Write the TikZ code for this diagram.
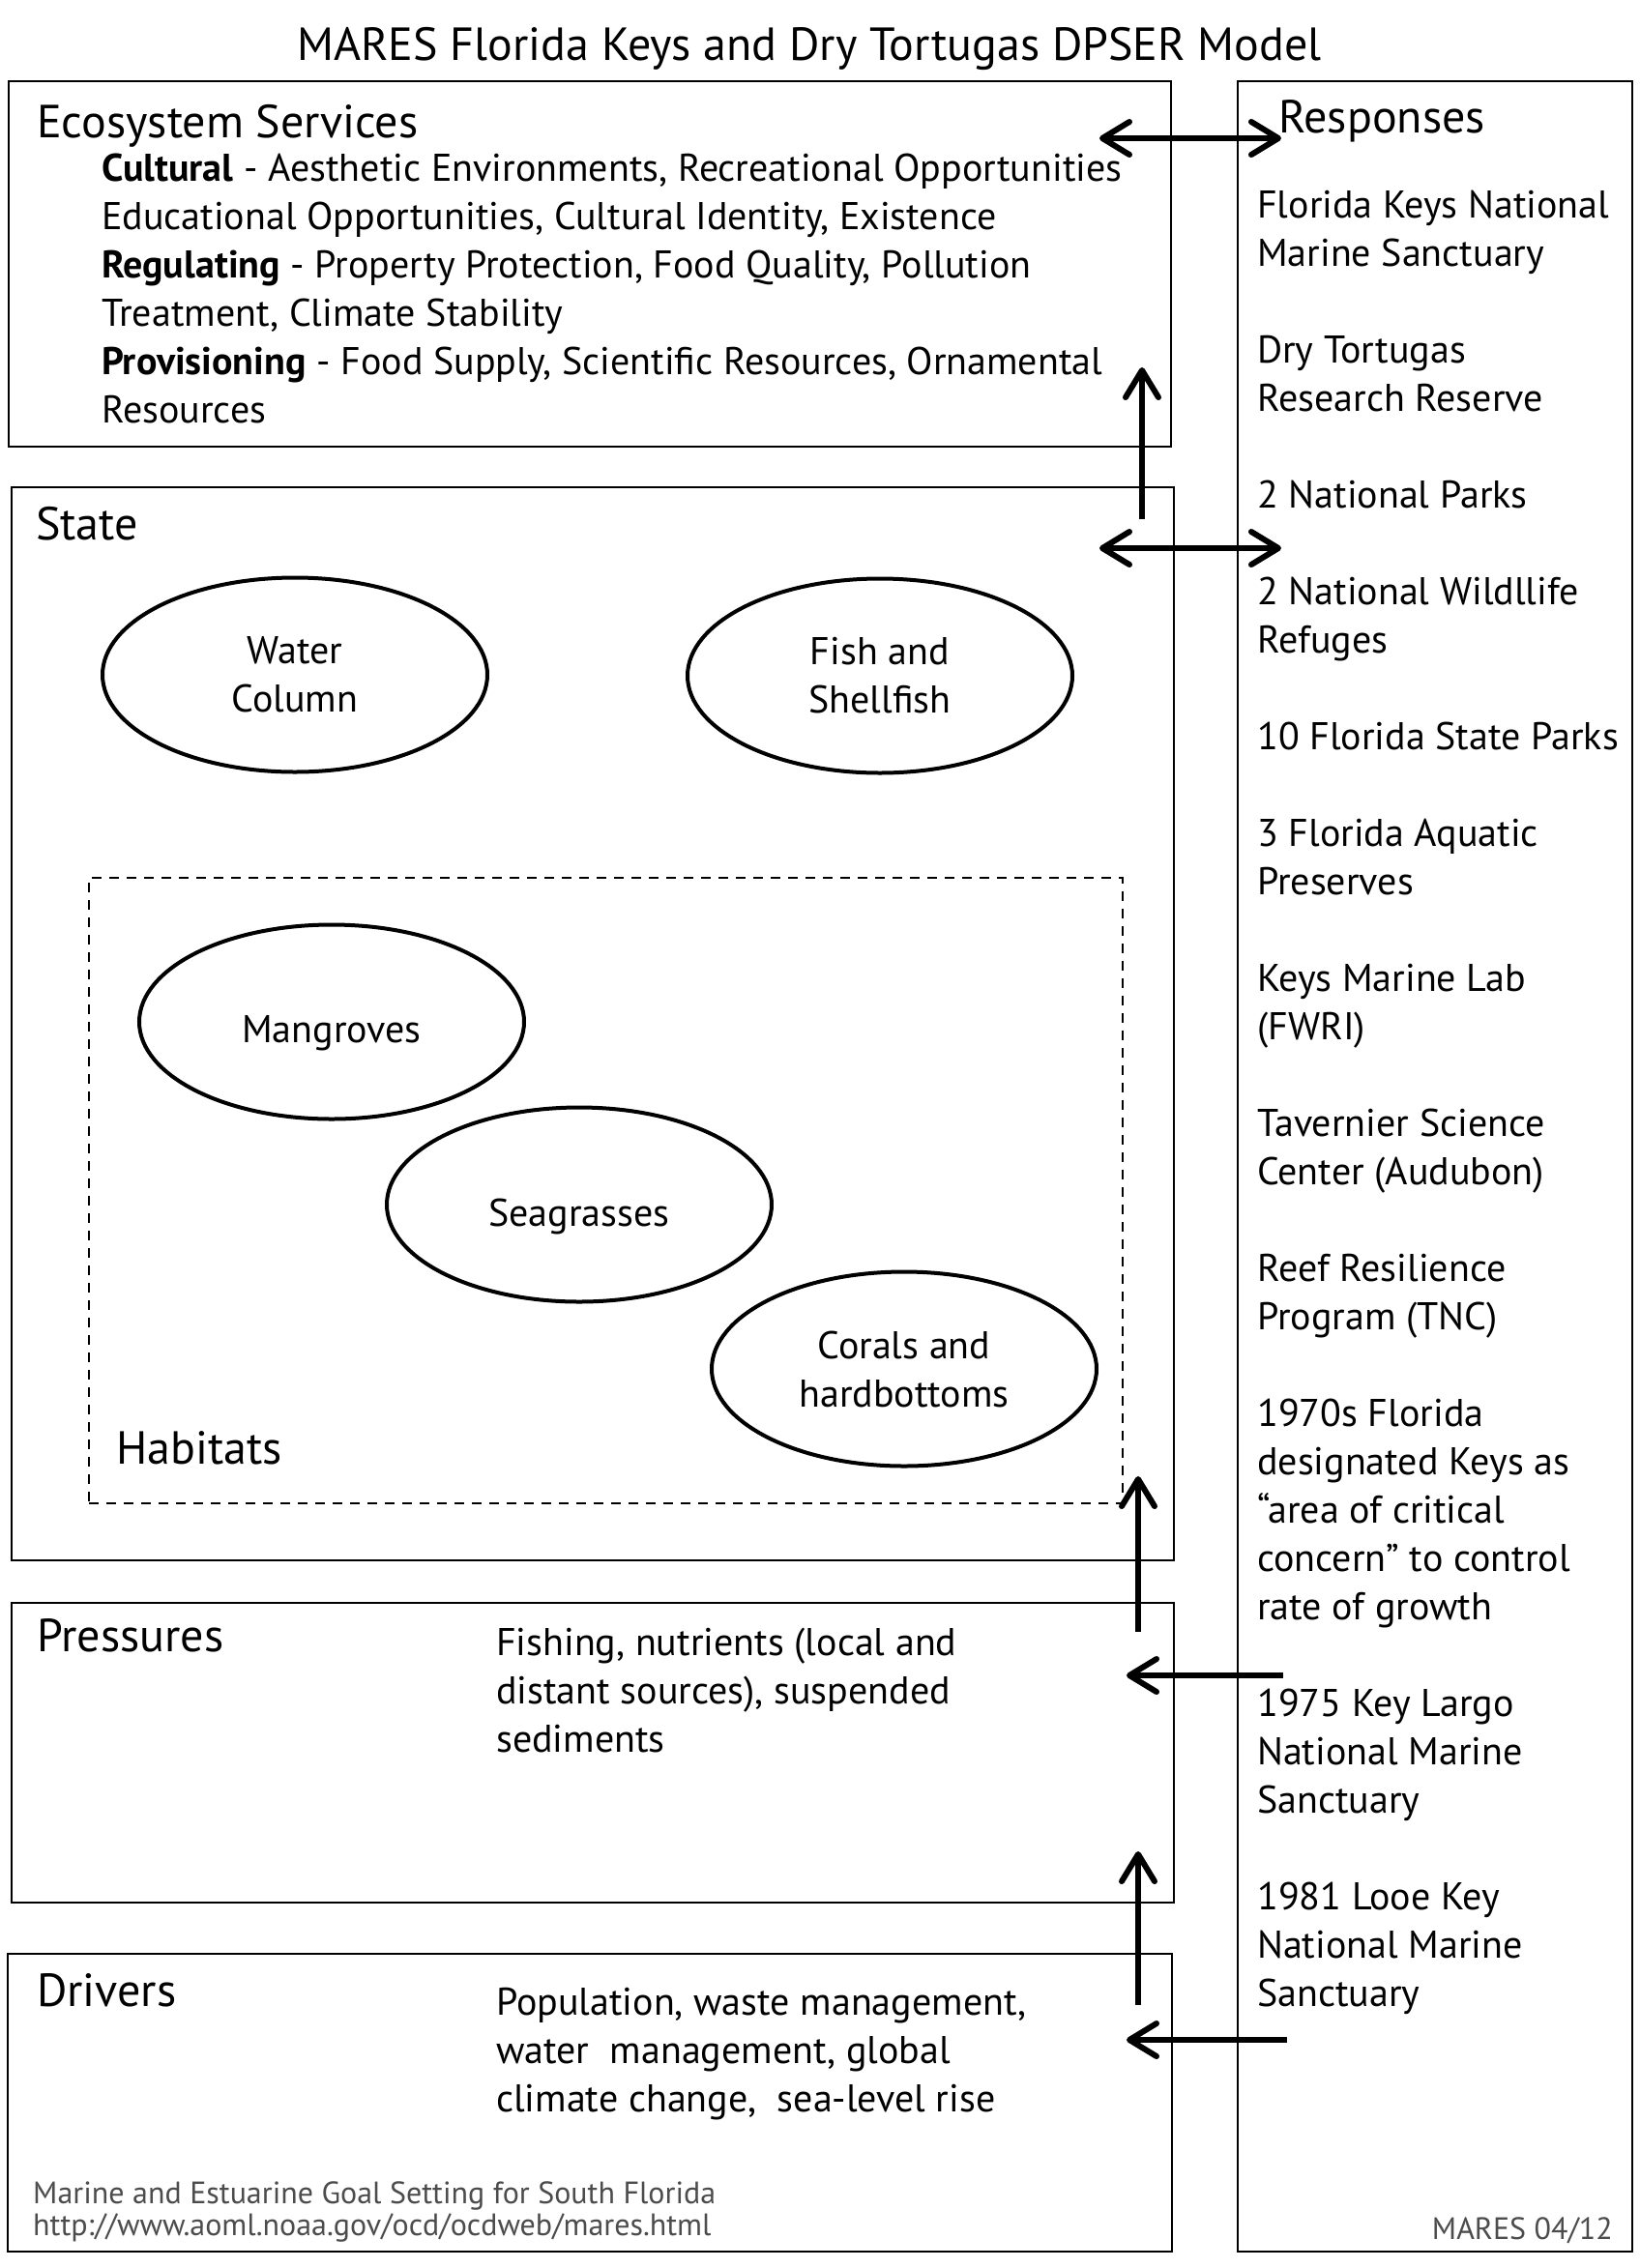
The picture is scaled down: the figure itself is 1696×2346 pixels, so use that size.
\documentclass[tikz,border=0pt]{standalone}
\usepackage{fontspec}
\setmainfont{PT Sans}
\usetikzlibrary{arrows.meta,shapes.geometric}
\newcommand\fbody{\fontsize{40pt}{50pt}\selectfont}
\newcommand\fhead{\fontsize{48pt}{56pt}\selectfont}
\newcommand\ftitle{\fontsize{48pt}{56pt}\selectfont}
\newcommand\ffoot{\fontsize{32pt}{34pt}\selectfont}
\definecolor{footgray}{gray}{0.3}
\tikzset{
  box/.style={draw, line width=2pt, anchor=north west, inner sep=0pt, outer sep=0pt},
  hab/.style={draw, dash pattern=on 10pt off 8pt, line width=1.5pt, anchor=north west, inner sep=0pt, outer sep=0pt},
  eco/.style={ellipse, draw, line width=4pt, minimum width=398pt, minimum height=201pt, inner sep=0pt, align=center, font=\fbody},
  txt/.style={inner sep=0pt, anchor=base west, font=\fbody},
  head/.style={inner sep=0pt, anchor=base west, font=\fhead},
  foot/.style={inner sep=0pt, anchor=base west, font=\ffoot, text=footgray},
  barb/.tip={Straight Barb[length=28pt,width=34pt,round]},
  flow/.style={line width=6pt, -barb},
  dflow/.style={line width=6pt, barb-barb},
}
\begin{document}
\begin{tikzpicture}[x=1pt,y=-1pt]
\useasboundingbox[fill=white] (0,0) rectangle (1696,2346);

% title
\node[inner sep=0pt, anchor=base, font=\ftitle] (title) at (837,62) {MARES Florida Keys and Dry Tortugas DPSER Model};

% boxes
\node[box, minimum width=1202pt, minimum height=378pt] (es) at (9,84) {};
\node[box, minimum width=408pt, minimum height=2245pt] (resp) at (1280,84) {};
\node[box, minimum width=1202pt, minimum height=1110pt] (state) at (12,504) {};
\node[hab, minimum width=1069pt, minimum height=647pt] (habitats) at (92,908) {};
\node[box, minimum width=1202pt, minimum height=310pt] (press) at (12,1658) {};
\node[box, minimum width=1204pt, minimum height=308pt] (drivers) at (8,2021) {};

% ecosystem services
\node[head] (esh) at (38,142) {Ecosystem Services};
\node[txt] (es1) at (105,187) {\textbf{Cultural} - Aesthetic Environments, Recreational Opportunities};
\node[txt] (es2) at (105,237) {Educational Opportunities, Cultural Identity, Existence};
\node[txt] (es3) at (105,287) {\textbf{Regulating} - Property Protection, Food Quality, Pollution};
\node[txt] (es4) at (105,337) {Treatment, Climate Stability};
\node[txt] (es5) at (105,387) {\textbf{Provisioning} - Food Supply, Scientific Resources, Ornamental};
\node[txt] (es6) at (105,437) {Resources};

% responses
\node[head] (resph) at (1322,137) {Responses};
\foreach \yy/\tt [count=\i] in {
  225/Florida Keys National,
  275/Marine Sanctuary,
  375/Dry Tortugas,
  425/Research Reserve,
  525/2 National Parks,
  625/2 National Wildllife,
  675/Refuges,
  775/10 Florida State Parks,
  875/3 Florida Aquatic,
  925/Preserves,
  1025/Keys Marine Lab,
  1075/(FWRI),
  1175/Tavernier Science,
  1225/Center (Audubon),
  1325/Reef Resilience,
  1375/Program (TNC),
  1475/1970s Florida,
  1525/designated Keys as,
  1575/“area of critical,
  1625/concern” to control,
  1675/rate of growth,
  1775/1975 Key Largo,
  1825/National Marine,
  1875/Sanctuary,
  1975/1981 Looe Key,
  2025/National Marine,
  2075/Sanctuary}
  {\node[txt] (r\i) at (1300,\yy) {\tt};}

% state
\node[head] (stateh) at (37,558) {State};
\node[eco] (wc) at (305,698) {Water\\Column};
\node[eco] (fs) at (910,699) {Fish and\\Shellfish};
\node[eco] (mg) at (343,1057) {\raisebox{-21pt}[0pt][0pt]{Mangroves}};
\node[eco] (sg) at (599,1246) {\raisebox{-22pt}[0pt][0pt]{Seagrasses}};
\node[eco] (co) at (935,1416) {Corals and\\hardbottoms};
\node[head] (habh) at (120,1514) {Habitats};

% pressures
\node[head] (pressh) at (38,1708) {Pressures};
\node[txt] (p1) at (513,1712) {Fishing, nutrients (local and};
\node[txt] (p2) at (513,1762) {distant sources), suspended};
\node[txt] (p3) at (513,1812) {sediments};

% drivers
\node[head] (drvh) at (38,2075) {Drivers};
\node[txt] (d1) at (513,2084) {Population, waste management,};
\node[txt] (d2) at (513,2134) {water\ \ management, global};
\node[txt] (d3) at (513,2184) {climate change,\ \ sea-level rise};

% footer
\node[foot] (f1) at (34,2279) {Marine and Estuarine Goal Setting for South Florida};
\node[foot] (f2) at (34,2312) {http://www.aoml.noaa.gov/ocd/ocdweb/mares.html};
\node[foot, anchor=base east] (f3) at (1668,2316) {MARES 04/12};

% arrow end points
\coordinate (a1l) at (1137,143);
\coordinate (a1r) at (1325,143);
\coordinate (a2b) at (1181,537);
\coordinate (a2t) at (1181,380);
\coordinate (a3l) at (1137,567);
\coordinate (a3r) at (1325,567);
\coordinate (a4b) at (1177,1688);
\coordinate (a4t) at (1177,1527);
\coordinate (a5r) at (1327,1733);
\coordinate (a5l) at (1165,1733);
\coordinate (a6b) at (1177,2074);
\coordinate (a6t) at (1177,1915);
\coordinate (a7r) at (1331,2110);
\coordinate (a7l) at (1165,2110);

\draw[dflow] (a1l) -- (a1r);
\draw[flow] (a2b) -- (a2t);
\draw[dflow] (a3l) -- (a3r);
\draw[flow] (a4b) -- (a4t);
\draw[flow] (a5r) -- (a5l);
\draw[flow] (a6b) -- (a6t);
\draw[flow] (a7r) -- (a7l);
\end{tikzpicture}
\end{document}
